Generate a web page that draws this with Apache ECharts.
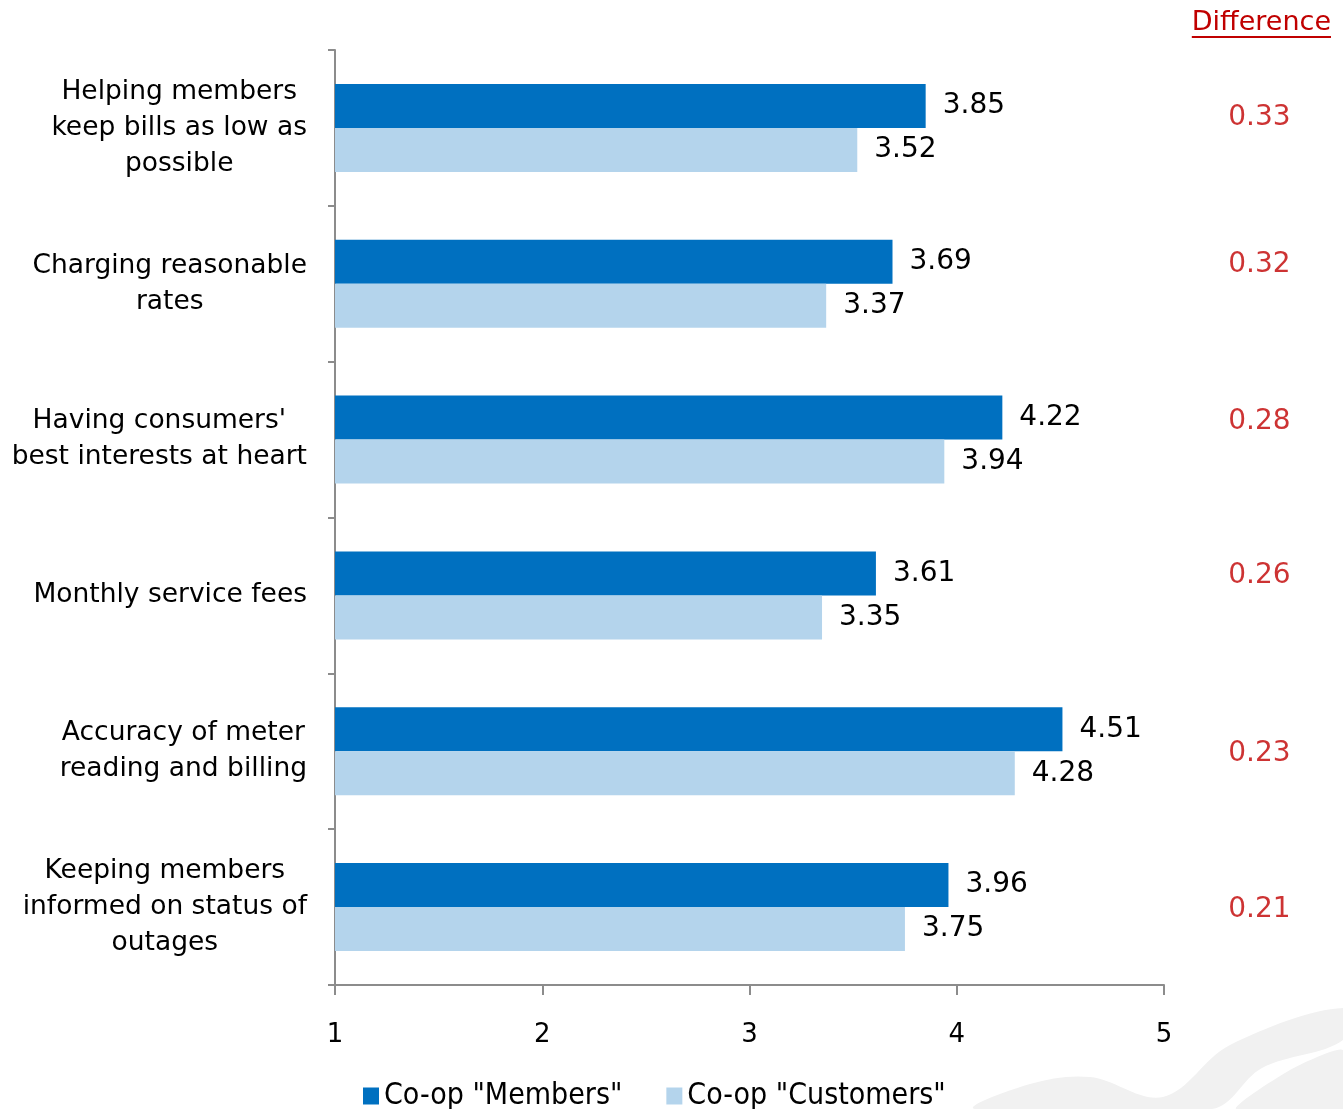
<!DOCTYPE html>
<html>
<head>
<meta charset="utf-8">
<style>
  html, body { margin: 0; padding: 0; background: #ffffff; }
  #chart { width: 1343px; height: 1109px; }
</style>
<script src="https://cdn.jsdelivr.net/npm/echarts@6/dist/echarts.min.js"></script>
</head>
<body>
<div id="chart"></div>
<script>
// Ratings (1–5 scale) by attribute
const categories = [
  'Helping members\nkeep bills as low as\npossible',
  'Charging reasonable\nrates',
  "Having consumers'\nbest interests at heart",
  'Monthly service fees',
  'Accuracy of meter\nreading and billing',
  'Keeping members\ninformed on status of\noutages'
];
const membersScores   = [3.85, 3.69, 4.22, 3.61, 4.51, 3.96];
const customersScores = [3.52, 3.37, 3.94, 3.35, 4.28, 3.75];
const seriesNames = ['Co-op "Members"', 'Co-op "Customers"'];
const xTicks = [1, 2, 3, 4, 5];

// gap between the two groups, shown in the right-hand column
const differences = membersScores.map((m, i) => +(m - customersScores[i]).toFixed(2));

const FONT = "'DejaVu Sans', 'Liberation Sans', sans-serif";
const NARROW = "'Liberation Sans Narrow', 'DejaVu Sans Condensed', 'Roboto Condensed', 'Liberation Sans', sans-serif";
const RED = '#C00000';
const DIFF_COLUMN_X = 5.46;                        // x of the annotation column, right of the plot
const diffLabelNudge = [-10, -19, -18, -20, 2, 3]; // vertical tweak of each annotation (px)

const chart = echarts.init(document.getElementById('chart'), null, { renderer: 'canvas' });

// width of the header so its underline spans the word
const ctx = document.createElement('canvas').getContext('2d');
ctx.font = "27px " + FONT;
const headerText = 'Difference';
const headerW = ctx.measureText(headerText).width;
const headerRight = 1331;

chart.setOption({
  animation: false,
  backgroundColor: '#ffffff',
  grid: { left: 335, right: 179, top: 50, bottom: 124, containLabel: false },
  xAxis: {
    type: 'value',
    min: xTicks[0],
    max: xTicks[xTicks.length - 1],
    interval: 1,
    splitLine: { show: false },
    axisLine: { show: true, lineStyle: { color: '#8c8c8c', width: 2 } },
    axisTick: { show: true, length: 10, lineStyle: { color: '#8c8c8c', width: 2 } },
    axisLabel: { margin: 37, fontSize: 26, color: '#000', fontFamily: FONT }
  },
  yAxis: {
    type: 'category',
    inverse: true,
    data: categories,
    axisLine: { show: true, lineStyle: { color: '#8c8c8c', width: 2 } },
    axisTick: { show: true, length: 7, alignWithLabel: false, lineStyle: { color: '#8c8c8c', width: 2 } },
    axisLabel: {
      margin: 28,
      color: '#000',
      fontSize: 26.5,
      fontFamily: FONT,
      lineHeight: 36,
      formatter: (v) => v.split('\n').map(s => '{c|' + s + '}').join('\n'),
      rich: { c: { align: 'center', fontSize: 26.5, lineHeight: 36, fontFamily: FONT, color: '#000' } }
    }
  },
  legend: {
    data: seriesNames,
    left: 363,
    top: 1081,
    padding: 0,
    icon: 'rect',
    itemWidth: 16,
    itemHeight: 17,
    itemGap: 44,
    textStyle: { fontSize: 30, color: '#000', fontFamily: NARROW, lineHeight: 30 }
  },
  series: [
    {
      name: seriesNames[0],
      type: 'bar',
      data: membersScores,
      barWidth: 44,
      barGap: '0%',
      itemStyle: { color: '#0070C0' },
      label: { show: true, position: 'right', distance: 17, fontSize: 28, color: '#000', fontFamily: FONT,
               formatter: p => p.value.toFixed(2) }
    },
    {
      name: seriesNames[1],
      type: 'bar',
      data: customersScores,
      barWidth: 44,
      barGap: '0%',
      itemStyle: { color: '#B4D4EC' },
      label: { show: true, position: 'right', distance: 17, fontSize: 28, color: '#000', fontFamily: FONT,
               formatter: p => p.value.toFixed(2) }
    },
    {
      name: 'Difference',
      type: 'scatter',
      clip: false,
      symbolSize: 0,
      silent: true,
      data: differences.map((d, i) => ({
        value: [DIFF_COLUMN_X, i, d],
        label: { offset: [0, diffLabelNudge[i]] }
      })),
      label: { show: true, position: 'inside', fontSize: 28, color: RED, fontFamily: FONT,
               formatter: p => p.value[2].toFixed(2) }
    }
  ],
  graphic: [
    // faint logo swoosh in the lower-right corner
    {
      type: 'polygon', z: -10, silent: true,
      shape: {
        points: [[975, 1109], [1030, 1084], [1090, 1077], [1163, 1097], [1230, 1045], [1343, 1008], [1343, 1040], [1262, 1068], [1212, 1109]],
        smooth: 0.35
      },
      style: { fill: '#f1f1f1' }
    },
    {
      type: 'polygon', z: -10, silent: true,
      shape: {
        points: [[1236, 1109], [1290, 1070], [1343, 1050], [1343, 1109]],
        smooth: 0.2
      },
      style: { fill: '#f1f1f1' }
    },
    {
      type: 'text',
      left: headerRight - headerW,
      top: 9,
      style: { text: headerText, fontSize: 27, fill: RED, fontFamily: FONT }
    },
    {
      type: 'line',
      shape: { x1: headerRight - headerW, y1: 37, x2: headerRight, y2: 37 },
      style: { stroke: RED, lineWidth: 2 }
    }
  ]
});
</script>
</body>
</html>
